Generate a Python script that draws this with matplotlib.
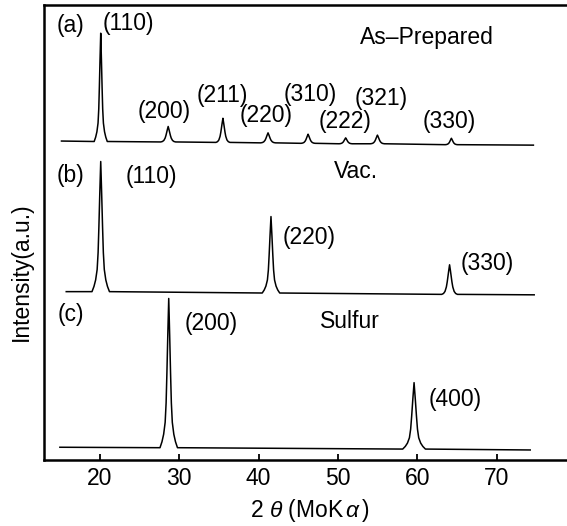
import matplotlib
matplotlib.use('Agg')
import matplotlib.pyplot as plt

plt.rcParams['font.family'] = ['Liberation Sans', 'DejaVu Sans']
plt.rcParams['mathtext.fontset'] = 'custom'
plt.rcParams['mathtext.rm'] = 'Liberation Sans'
plt.rcParams['mathtext.it'] = 'Liberation Sans:italic'

# ---- data (2theta in deg, intensity in a.u. incl. offset)
# (a) as-prepared
a_ends_x = [15.2, 74.6]
a_ends_y = [70.1, 69.2]
a_pos = [20.14, 28.63, 35.52, 41.2, 46.24, 50.97, 54.97, 64.28]
a_top = [93.8, 73.3, 75.1, 71.9, 71.6, 70.8, 71.4, 70.7]
a_base = [70.0, 69.9, 69.8, 69.7, 69.6, 69.5, 69.5, 69.3]
a_hkl = ['(110)', '(200)', '(211)', '(220)', '(310)', '(222)', '(321)', '(330)']

# (b) vacuum
b_ends_x = [15.8, 74.7]
b_ends_y = [37.0, 36.3]
b_pos = [20.14, 41.57, 64.05]
b_top = [65.6, 53.5, 42.9]
b_base = [37.0, 36.7, 36.4]
b_hkl = ['(110)', '(220)', '(330)']

# (c) sulfur
c_ends_x = [15.0, 74.2]
c_ends_y = [2.8, 2.2]
c_pos = [28.7, 59.58]
c_top = [35.5, 17.0]
c_base = [2.7, 2.4]
c_hkl = ['(200)', '(400)']

# peak shape (half width in deg per peak, template of the drawn profile)
a_w = [0.75, 0.85, 0.8, 0.85, 0.8, 0.75, 0.8, 0.7]
b_w = [1.0, 1.0, 0.9]
c_w = [1.0, 1.3]
shape_dx = [0.0, 0.12, 0.23, 0.33, 0.45, 0.64, 0.85, 1.1]
shape_fy = [1.0, 0.75, 0.5, 0.3, 0.17, 0.09, 0.04, 0.0]
small_fy = [1.0, 0.8, 0.6, 0.42, 0.25, 0.1, 0.03, 0.0]

fig = plt.figure(figsize=(5.67, 5.26), dpi=100)
ax = fig.add_axes([0.0776, 0.1255, 0.9224, 0.865])


def trace(ends_x, ends_y, pos, top, base, width):
    xs = [ends_x[0]]
    ys = [ends_y[0]]
    for p, t, b, w in zip(pos, top, base, width):
        h = t - b
        # weak reflections look more like small rounded triangles
        fys = small_fy if h < 8 else shape_fy
        for dx, fy in zip(shape_dx[::-1], fys[::-1]):
            xs.append(p - dx * w)
            ys.append(b + fy * h)
        for dx, fy in zip(shape_dx[1:], fys[1:]):
            xs.append(p + dx * w)
            ys.append(b + fy * h)
    xs.append(ends_x[1])
    ys.append(ends_y[1])
    ax.plot(xs, ys, color='black', lw=1.1, solid_joinstyle='round')


trace(a_ends_x, a_ends_y, a_pos, a_top, a_base, a_w)
trace(b_ends_x, b_ends_y, b_pos, b_top, b_base, b_w)
trace(c_ends_x, c_ends_y, c_pos, c_top, c_base, c_w)

fs = 16.5
# label positions (x, y) for every hkl label, same order as above
a_lab_xy = [(23.61, 96.0), (28.08, 76.5), (35.43, 80.2), (40.96, 75.7),
            (46.47, 80.3), (50.91, 74.5), (55.48, 79.5), (63.95, 74.5)]
b_lab_xy = [(26.54, 62.2), (46.34, 48.8), (68.82, 43.1)]
c_lab_xy = [(34.0, 29.9), (64.74, 13.4)]
for hkl, xy in zip(a_hkl + b_hkl + c_hkl, a_lab_xy + b_lab_xy + c_lab_xy):
    ax.text(xy[0], xy[1], hkl, fontsize=fs, ha='center', va='center')

ax.text(16.31, 95.4, '(a)', fontsize=fs, ha='center', va='center')
ax.text(16.36, 62.6, '(b)', fontsize=fs, ha='center', va='center')
ax.text(16.36, 31.9, '(c)', fontsize=fs, ha='center', va='center')
ax.text(61.22, 92.9, 'As\u2013Prepared', fontsize=fs, ha='center', va='center')
ax.text(52.23, 63.5, 'Vac.', fontsize=fs, ha='center', va='center')
ax.text(51.53, 30.4, 'Sulfur', fontsize=fs, ha='center', va='center')

ax.set_xlim(13.0, 78.83)
ax.set_ylim(0, 100)
ax.set_xticks([20, 30, 40, 50, 60, 70])
ax.set_yticks([])
ax.tick_params(axis='x', direction='in', length=4, width=1.3,
               labelsize=fs, pad=5)
ax.spines['right'].set_visible(False)
for s in ['left', 'top', 'bottom']:
    ax.spines[s].set_linewidth(1.8)

ax.set_ylabel('Intensity(a.u.)', fontsize=fs)
ax.yaxis.set_label_coords(-0.022, 0.413)
ax.set_xlabel(r'2 $\theta$ (MoK$\,\alpha\,$)', fontsize=fs)
ax.xaxis.set_label_coords(0.509, -0.081)

fig.savefig('out.png', dpi=100)
